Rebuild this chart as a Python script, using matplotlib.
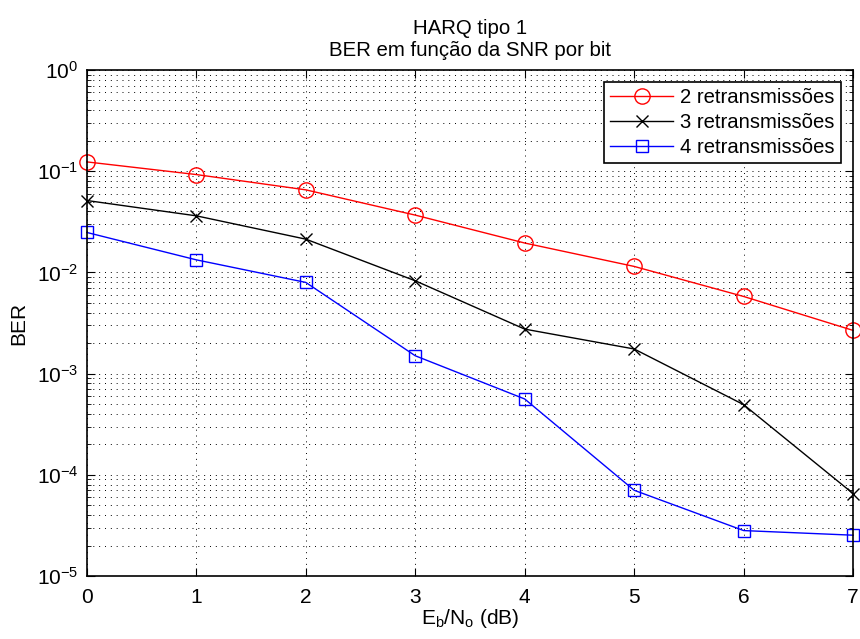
import matplotlib
matplotlib.use('Agg')
import matplotlib.pyplot as plt
from matplotlib.ticker import LogLocator, NullFormatter

plt.rcParams['font.family'] = ['Liberation Sans', 'DejaVu Sans']
plt.rcParams['mathtext.fontset'] = 'custom'
plt.rcParams['mathtext.rm'] = 'Liberation Sans'
plt.rcParams['mathtext.it'] = 'Liberation Sans'
plt.rcParams['mathtext.default'] = 'regular'

# Eb/No (dB)
snr_db = [0, 1, 2, 3, 4, 5, 6, 7]
# BER per number of retransmissions
ber_2 = [0.1235, 0.0926, 0.0654, 0.0368, 0.0195, 0.01145, 0.00578, 0.00267]
ber_3 = [0.0513, 0.0362, 0.0213, 0.00826, 0.00275, 0.00175, 0.000493, 6.52e-5]
ber_4 = [0.0248, 0.0133, 0.00796, 0.00150, 0.000561, 7.03e-5, 2.81e-5, 2.53e-5]
labels = ['2 retransmissões', '3 retransmissões', '4 retransmissões']

fig = plt.figure(figsize=(8.6, 6.39), dpi=100)
ax = fig.add_axes([0.101, 0.0986, 0.891, 0.7919])

ax.semilogy(snr_db, ber_2, 'r-o', mfc='none', ms=11, mew=1, lw=1, clip_on=False, label=labels[0])
ax.semilogy(snr_db, ber_3, 'k-x', ms=8, mew=1, lw=1, clip_on=False, label=labels[1])
ax.semilogy(snr_db, ber_4, 'b-s', mfc='none', ms=9, mew=1, lw=1, clip_on=False, label=labels[2])

ax.set_xlim(0, 7)
ax.set_ylim(1e-5, 1)
ax.set_xticks(snr_db)
ax.yaxis.set_major_locator(LogLocator(base=10, numticks=10))
ax.yaxis.set_minor_locator(LogLocator(base=10, subs=range(2, 10), numticks=50))
ax.yaxis.set_minor_formatter(NullFormatter())

dots = (0, (1, 5))
ax.grid(True, which='major', axis='both', ls=dots, color='k', lw=0.7)
ax.grid(True, which='minor', axis='y', ls=dots, color='k', lw=0.7)
ax.tick_params(which='both', direction='in', top=True, right=True, labelsize=15)
ax.tick_params(axis='x', pad=9)
ax.tick_params(axis='y', pad=6)
ax.tick_params(which='major', length=6)
ax.tick_params(which='minor', length=3)
for s in ax.spines.values():
    s.set_linewidth(1.2)

ax.set_title('HARQ tipo 1\nBER em função da SNR por bit', fontsize=14.7, linespacing=1.2, pad=10)
ax.set_xlabel(r'E$_b$/N$_o$ (dB)', fontsize=15, labelpad=0)
ax.set_ylabel('BER', fontsize=15, labelpad=6)

leg = ax.legend(loc='upper right', fontsize=14.6, handlelength=3.1, handletextpad=0.35,
                fancybox=False, edgecolor='k', framealpha=1, borderpad=0.3,
                labelspacing=0.3, borderaxespad=0.6)
leg.get_frame().set_linewidth(1.2)

fig.savefig('out.png', dpi=100)
